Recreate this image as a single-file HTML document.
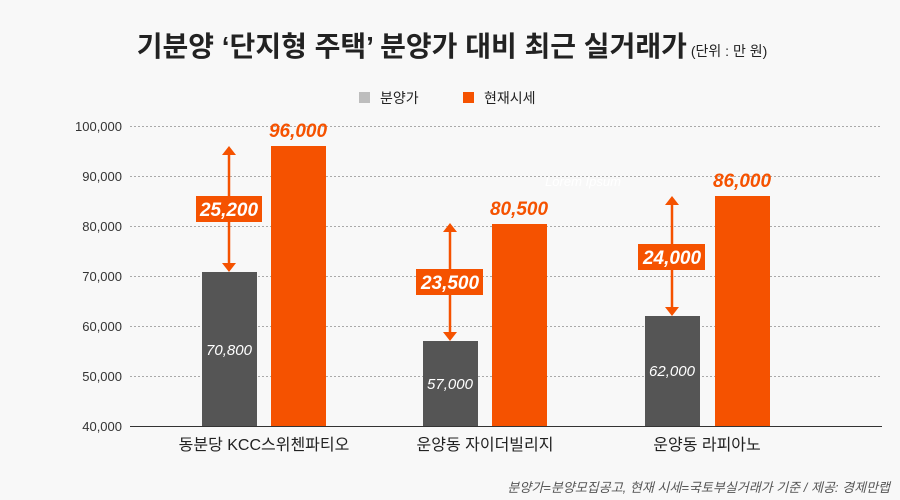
<!DOCTYPE html>
<html><head><meta charset="utf-8"><style>
body{margin:0;background:#f8f8f8;}
svg{display:block;font-family:"Liberation Sans","Noto Sans CJK KR",sans-serif;}
</style></head><body>
<svg width="900" height="500" viewBox="0 0 900 500">
<rect width="900" height="500" fill="#f8f8f8"/>
<text x="452" y="56" text-anchor="middle" font-size="28" font-weight="bold" fill="#222">기분양 ‘단지형 주택’ 분양가 대비 최근 실거래가<tspan font-size="14" font-weight="normal" dx="4">(단위 : 만 원)</tspan></text>
<rect x="359" y="92" width="11" height="11" fill="#bdbdbd"/>
<text x="380" y="103" font-size="14" fill="#222">분양가</text>
<rect x="463" y="92" width="11" height="11" fill="#f55200"/>
<text x="484" y="103" font-size="14" fill="#222">현재시세</text>
<g stroke="#aaa" stroke-dasharray="2,2" stroke-width="1">
<line x1="130" x2="882" y1="126.5" y2="126.5"/><line x1="130" x2="882" y1="176.5" y2="176.5"/>
<line x1="130" x2="882" y1="226.5" y2="226.5"/><line x1="130" x2="882" y1="276.5" y2="276.5"/>
<line x1="130" x2="882" y1="326.5" y2="326.5"/><line x1="130" x2="882" y1="376.5" y2="376.5"/>
</g>
<line x1="130" x2="882" y1="426.5" y2="426.5" stroke="#333" stroke-width="1"/>
<g font-size="13" fill="#333" text-anchor="end">
<text x="122" y="131">100,000</text><text x="122" y="181">90,000</text><text x="122" y="231">80,000</text>
<text x="122" y="281">70,000</text><text x="122" y="331">60,000</text><text x="122" y="381">50,000</text><text x="122" y="431">40,000</text>
</g>
<text x="583" y="186" font-size="13" font-style="italic" fill="#fff" text-anchor="middle">Lorem Ipsum</text>
<g fill="#555">
<rect x="202" y="272" width="55" height="154"/>
<rect x="423" y="341" width="55" height="85"/>
<rect x="645" y="316" width="55" height="110"/>
</g>
<g fill="#f55200">
<rect x="271" y="146" width="55" height="280"/>
<rect x="492" y="224" width="55" height="202"/>
<rect x="715" y="196" width="55" height="230"/>
</g>
<g font-size="19" font-weight="bold" font-style="italic" fill="#f55200" text-anchor="middle">
<text x="298" y="137">96,000</text><text x="519" y="215">80,500</text><text x="742" y="187">86,000</text>
</g>
<g font-size="15" font-style="italic" fill="#fff" text-anchor="middle">
<text x="229" y="355">70,800</text><text x="450" y="389">57,000</text><text x="672" y="376">62,000</text>
</g>
<g stroke="#f55200" stroke-width="2.5">
<line x1="229" y1="152" x2="229" y2="265"/><line x1="450" y1="229" x2="450" y2="335"/><line x1="672" y1="202" x2="672" y2="310"/>
</g>
<g fill="#f55200">
<polygon points="222,155 236,155 229,146"/><polygon points="222,263 236,263 229,272"/>
<polygon points="443,232 457,232 450,223"/><polygon points="443,332 457,332 450,341"/>
<polygon points="665,205 679,205 672,196"/><polygon points="665,307 679,307 672,316"/>
<rect x="196" y="196" width="66" height="26"/><rect x="416" y="269" width="67" height="26"/><rect x="638" y="244" width="67" height="26"/>
</g>
<g font-size="19" font-weight="bold" font-style="italic" fill="#fff" text-anchor="middle">
<text x="229" y="216">25,200</text><text x="450" y="289">23,500</text><text x="672" y="264">24,000</text>
</g>
<g font-size="16" fill="#222" text-anchor="middle">
<text x="264" y="450">동분당 KCC스위첸파티오</text><text x="485" y="450">운양동 자이더빌리지</text><text x="707" y="450">운양동 라피아노</text>
</g>
<text x="890" y="492" font-size="13" font-style="italic" fill="#555" text-anchor="end">분양가=분양모집공고, 현재 시세=국토부실거래가 기준 / 제공: 경제만랩</text>
</svg>
</body></html>
